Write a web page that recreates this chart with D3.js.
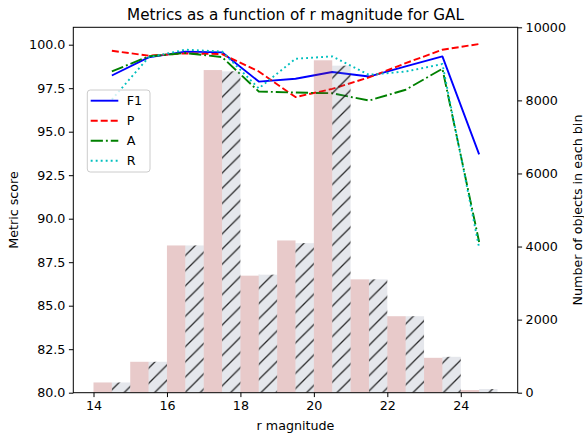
<!DOCTYPE html>
<html><head><meta charset="utf-8">
<script src="https://cdn.jsdelivr.net/npm/d3@7"></script>
<style>body{margin:0;background:#fff}svg{display:block}text{font-family:"DejaVu Sans",sans-serif;fill:#000}</style>
</head><body><svg id="c" width="584" height="437"></svg>
<script>
const bins = [14,15,16,17,18,19,20,21,22,23,24];
const countsFirst = [280, 846, 4030, 8830, 3203, 4166, 9097, 3102, 2093, 955, 74];
const countsSecond = [280, 846, 4030, 8795, 3230, 4093, 8950, 3102, 2093, 982, 100];
const centers = [14.5,15.5,16.5,17.5,18.5,19.5,20.5,21.5,22.5,23.5,24.5];
const F1 = [98.23, 99.27, 99.60, 99.56, 97.88, 98.04, 98.43, 98.17, 98.75, 99.33, 93.70];
const P  = [99.65, 99.37, 99.50, 99.46, 98.46, 96.99, 97.46, 98.12, 98.94, 99.71, 100.04];
const A  = [98.46, 99.33, 99.52, 99.29, 97.31, 97.25, 97.21, 96.79, 97.41, 98.62, 88.66];
const R  = [96.85, 99.27, 99.71, 99.61, 97.49, 99.19, 99.33, 98.27, 98.46, 98.89, 88.33];
const xTicks = [14,16,18,20,22,24];
const yTicks = [80,82.5,85,87.5,90,92.5,95,97.5,100];
const y2Ticks = [0,2000,4000,6000,8000,10000];
const seriesNames = ["F1","P","A","R"];

const L=73.3, Rr=517.7, T=27.3, B=392.7;
const svg = d3.select("#c");
const x = d3.scaleLinear().domain([13.45,25.55]).range([L,Rr]);
const y = d3.scaleLinear().domain([80,101]).range([B,T]);
const y2 = d3.scaleLinear().domain([0,10000]).range([B,T]);

const defs = svg.append("defs");
const hs = 15.2;
const pat = defs.append("pattern").attr("id","hatch").attr("patternUnits","userSpaceOnUse")
  .attr("width",hs).attr("height",hs).attr("x",0).attr("y",0);
pat.append("rect").attr("width",hs).attr("height",hs).attr("fill","rgba(110,120,150,0.18)");
pat.append("path").attr("d",`M0,${hs} L${hs},0 M${-hs/2},${hs/2} L${hs/2},${-hs/2} M${hs/2},${hs*1.5} L${hs*1.5},${hs/2}`)
  .attr("stroke","rgba(20,20,20,0.9)").attr("stroke-width",1.3);
defs.append("clipPath").attr("id","clip").append("rect").attr("x",L).attr("y",T).attr("width",Rr-L).attr("height",B-T);

const styles = [
  {c:"#0000ff", d:null},
  {c:"#ff0000", d:"7,3"},
  {c:"#008000", d:"12.2,3,1.9,3"},
  {c:"#00bfbf", d:"1.9,3.1"}
];
const data = [F1,P,A,R];
const g = svg.append("g").attr("clip-path","url(#clip)");
const line = d3.line().x((d,i)=>x(centers[i])).y(d=>y(d));
data.forEach((s,k)=>{
  g.append("path").datum(s).attr("d",line).attr("fill","none")
   .attr("stroke",styles[k].c).attr("stroke-width",1.9)
   .attr("stroke-dasharray",styles[k].d).attr("stroke-linejoin","round");
});
g.selectAll(".b1").data(bins).enter().append("rect")
  .attr("x",d=>x(d)).attr("width",d=>x(d+0.5)-x(d))
  .attr("y",(d,i)=>y2(countsFirst[i])).attr("height",(d,i)=>B-y2(countsFirst[i]))
  .attr("fill","rgba(165,42,42,0.25)");
g.selectAll(".b2").data(bins).enter().append("rect")
  .attr("x",d=>x(d+0.5)).attr("width",d=>x(d+1)-x(d+0.5))
  .attr("y",(d,i)=>y2(countsSecond[i])).attr("height",(d,i)=>B-y2(countsSecond[i]))
  .attr("fill","url(#hatch)");

// axes
const fs = 12.7;
const ax = svg.append("g").attr("transform",`translate(0,${B})`).call(d3.axisBottom(x).tickValues(xTicks).tickSize(4.4).tickPadding(3.5).tickFormat(d3.format("d")));
const ay = svg.append("g").attr("transform",`translate(${L},0)`).call(d3.axisLeft(y).tickValues(yTicks).tickSize(4.4).tickPadding(3.5).tickFormat(d3.format(".1f")));
const ay2 = svg.append("g").attr("transform",`translate(${Rr},0)`).call(d3.axisRight(y2).tickValues(y2Ticks).tickSize(4.4).tickPadding(3.5).tickFormat(d3.format("d")));
[ax,ay,ay2].forEach(a=>{
  a.select(".domain").remove();
  a.selectAll("line").attr("stroke","#000").attr("stroke-width",1);
  a.selectAll("text").attr("font-size",fs).attr("font-family","DejaVu Sans").attr("fill","#000");
});
svg.append("rect").attr("x",L).attr("y",T).attr("width",Rr-L).attr("height",B-T)
  .attr("fill","none").attr("stroke","#000").attr("stroke-width",1);

svg.append("text").attr("x",(L+Rr)/2).attr("y",19.5).attr("text-anchor","middle").attr("font-size",15.2)
  .text("Metrics as a function of r magnitude for GAL");
svg.append("text").attr("x",(L+Rr)/2).attr("y",430).attr("text-anchor","middle").attr("font-size",fs).text("r magnitude");
svg.append("text").attr("transform",`translate(18,${(T+B)/2}) rotate(-90)`).attr("text-anchor","middle").attr("font-size",fs).text("Metric score");
svg.append("text").attr("transform",`translate(582,${(T+B)/2}) rotate(-90)`).attr("text-anchor","middle").attr("font-size",fs).text("Number of objects in each bin");

// legend
const lg = svg.append("g");
lg.append("rect").attr("x",87.3).attr("y",90).attr("width",62.7).attr("height",82).attr("rx",3)
  .attr("fill","rgba(255,255,255,0.8)").attr("stroke","#cccccc").attr("stroke-width",1);
seriesNames.forEach((n,k)=>{
  const yy = 100.7 + k*20;
  lg.append("line").attr("x1",90.7).attr("x2",118.3).attr("y1",yy).attr("y2",yy)
    .attr("stroke",styles[k].c).attr("stroke-width",1.9).attr("stroke-dasharray",styles[k].d);
  lg.append("text").attr("x",126.7).attr("y",yy+4.5).attr("font-size",fs).text(n);
});
</script></body></html>
